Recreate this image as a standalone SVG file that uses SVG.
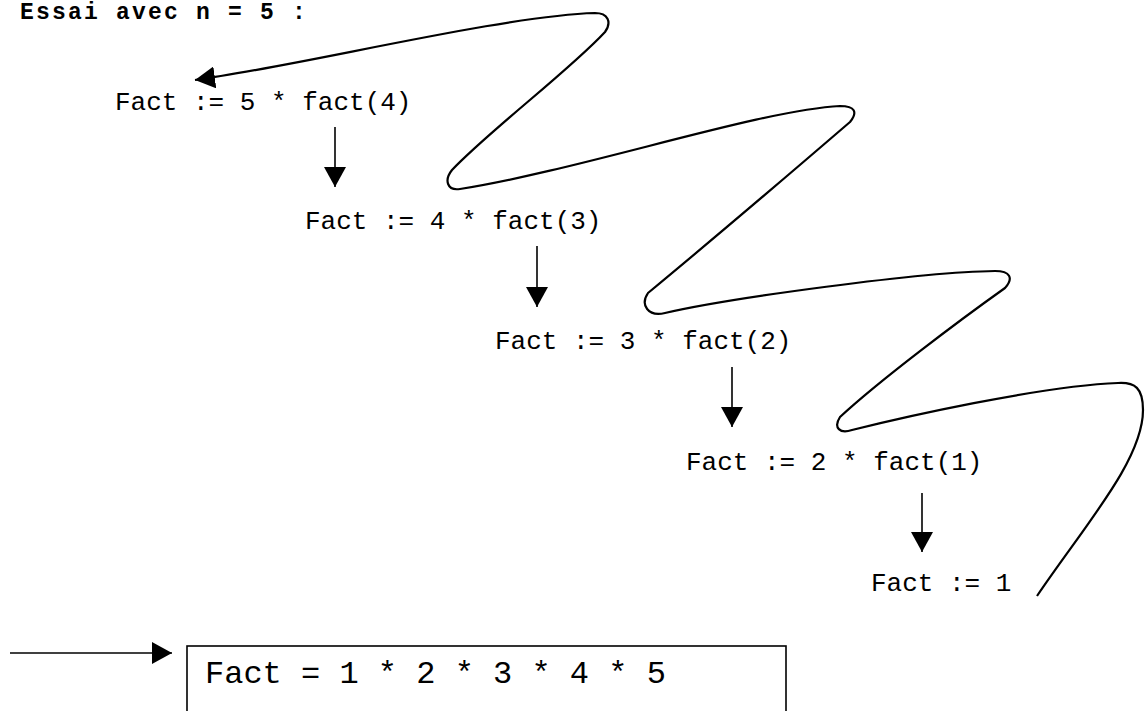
<svg xmlns="http://www.w3.org/2000/svg" width="1145" height="711" viewBox="0 0 1145 711">
<style>
.t{font-family:"Liberation Mono","Courier New",monospace;font-size:26px;fill:#000}
.title{font-family:"Liberation Mono","Courier New",monospace;font-size:23px;font-weight:bold;letter-spacing:2.2px;fill:#000}
.big{font-family:"Liberation Mono","Courier New",monospace;font-size:32px;fill:#000}
.a{stroke:#000;stroke-width:1.6;fill:none;marker-end:url(#ah)}
.curve{stroke:#000;stroke-width:2.2;fill:none;marker-end:url(#ah)}
</style>
<defs>
<marker id="ah" markerUnits="userSpaceOnUse" viewBox="0 0 20 22" markerWidth="20" markerHeight="22" refX="20" refY="11" orient="auto">
<path d="M0,0 L20,11 L0,22 z" fill="#000"/>
</marker>
</defs>
<rect width="1145" height="711" fill="#fff"/>
<g id="title"><text class="title" x="20" y="19">Essai avec n = 5 :</text></g>
<g id="n1"><text class="t" x="115" y="110">Fact := 5 * fact(4)</text></g>
<g id="n2"><text class="t" x="305" y="229">Fact := 4 * fact(3)</text></g>
<g id="n3"><text class="t" x="495" y="349">Fact := 3 * fact(2)</text></g>
<g id="n4"><text class="t" x="686" y="470">Fact := 2 * fact(1)</text></g>
<g id="n5"><text class="t" x="871" y="591">Fact := 1</text></g>
<g id="result">
<rect x="187" y="646" width="599" height="80" fill="none" stroke="#000" stroke-width="1.6"/>
<text class="big" x="205" y="683">Fact = 1 * 2 * 3 * 4 * 5</text>
</g>
<g id="connectors">
<line class="a" x1="335" y1="127" x2="335" y2="187"/>
<line class="a" x1="537" y1="246" x2="537" y2="307"/>
<line class="a" x1="732" y1="367" x2="732" y2="427"/>
<line class="a" x1="922" y1="493" x2="922" y2="552"/>
<line class="a" x1="10" y1="653" x2="172" y2="653"/>
<path class="curve" d="M1037,596 C1085,525 1143,460 1143,410 C1143,388 1135,382 1118,383 C1040,386 900,418 852,430 C840,434 833,428 840,417 C880,380 960,320 1005,288 C1014,278 1010,271 995,271 C920,272 730,298 665,313 C648,317 640,305 648,293 C700,250 800,165 850,122 C858,112 855,106 840,106 C760,110 580,170 460,189 C447,191 444,180 452,170 C490,130 570,70 605,32 C612,22 608,13 595,13 C500,16 300,66 195,80"/>
</g>
</svg>
